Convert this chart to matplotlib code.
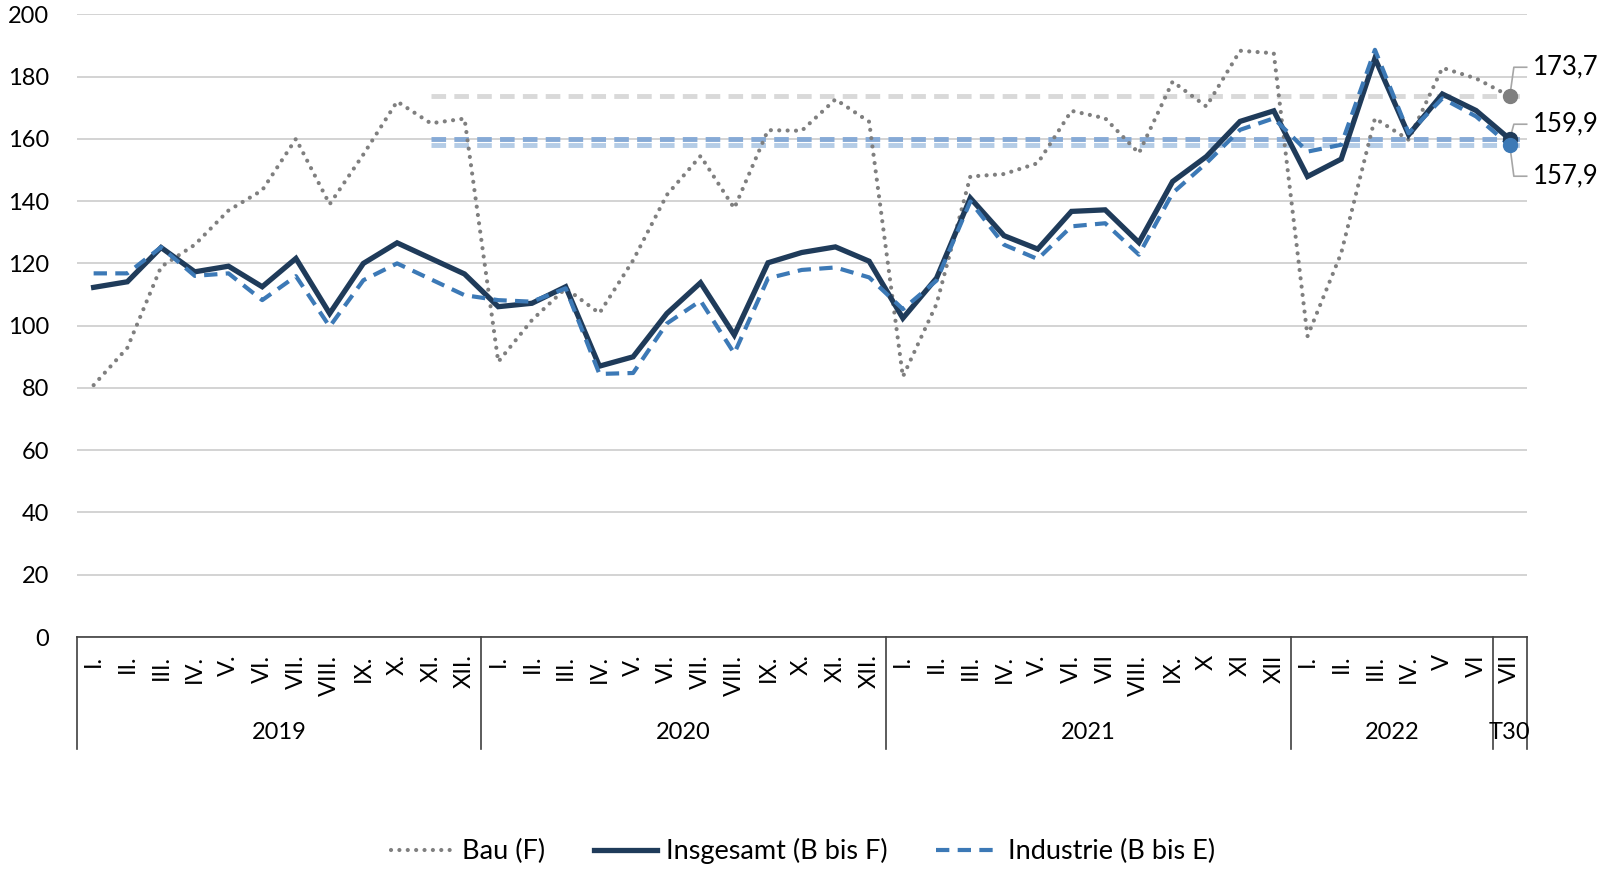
import matplotlib
matplotlib.use("Agg")
import matplotlib.pyplot as plt
import matplotlib.transforms as mtransforms

plt.rcParams['font.family'] = ['Lato', 'DejaVu Sans']

# data
years = ["2019", "2020", "2021", "2022", "T30"]
months = [
    ["I.", "II.", "III.", "IV.", "V.", "VI.", "VII.", "VIII.", "IX.", "X.", "XI.", "XII."],
    ["I.", "II.", "III.", "IV.", "V.", "VI.", "VII.", "VIII.", "IX.", "X.", "XI.", "XII."],
    ["I.", "II.", "III.", "IV.", "V.", "VI.", "VII", "VIII.", "IX.", "X", "XI", "XII"],
    ["I.", "II.", "III.", "IV.", "V", "VI"],
    ["VII"],
]
bau = [80.9, 92.9, 118.9, 126.0, 137.0, 143.5, 160.0, 139.0, 155.0, 172.0, 165.0, 166.5,
       88.4, 101.8, 112.0, 104.0, 121.0, 142.0, 154.5, 137.7, 162.8, 162.6, 172.7, 165.5,
       83.6, 107.0, 147.9, 148.7, 152.2, 169.0, 166.6, 155.4, 178.4, 170.4, 188.3, 187.5,
       96.6, 123.3, 166.6, 159.7, 182.8, 179.4, 173.7]
insg = [112.3, 114.1, 125.1, 117.3, 119.1, 112.5, 121.6, 103.9, 120.0, 126.6, 121.6, 116.6,
        106.1, 107.2, 112.5, 87.0, 90.0, 103.9, 113.8, 97.0, 120.2, 123.5, 125.3, 120.7,
        102.4, 115.3, 141.0, 128.9, 124.6, 136.7, 137.2, 126.7, 146.3, 154.3, 165.6, 169.0,
        147.9, 153.5, 185.9, 161.3, 174.4, 169.1, 159.9]
ind = [116.8, 116.8, 125.2, 116.0, 116.8, 108.2, 115.9, 99.7, 114.6, 120.0, 114.9, 109.8,
       108.2, 107.7, 112.0, 84.5, 84.8, 100.7, 108.0, 91.1, 115.2, 117.9, 118.7, 115.5,
       105.3, 114.5, 139.9, 126.0, 121.4, 131.9, 132.9, 122.8, 142.6, 152.2, 162.9, 166.6,
       155.9, 158.1, 188.6, 161.8, 173.0, 167.2, 157.9]
ref_start = 10
end_labels = ["173,7", "159,9", "157,9"]

c_bau = "#7f7f7f"
c_insg = "#1f3b5a"
c_ind = "#3c79b6"

fig = plt.figure(figsize=(16.06, 8.73), dpi=100)
ax = fig.add_axes([0.0478, 0.2703, 0.9028, 0.7133])

x = list(range(len(insg)))
last = x[-1]

# horizontal reference lines at the latest values
ax.hlines(bau[-1], ref_start, last + 0.5, color="#d9d9d9", lw=3.5, linestyles=(0, (3.0, 1.7)), zorder=2)
ax.hlines(insg[-1], ref_start, last + 0.5, color="#86aad6", lw=3.5, linestyles=(0, (3.0, 1.7)), zorder=2)
ax.hlines(ind[-1], ref_start, last + 0.5, color="#b4cce6", lw=3.5, linestyles=(0, (3.0, 1.7)), zorder=2)

ax.plot(x, bau, color=c_bau, lw=3.0, linestyle=(0, (0.01, 2.0)), dash_capstyle="round",
        label="Bau (F)", zorder=3)
ax.plot(x, insg, color=c_insg, lw=3.8, solid_joinstyle="miter", label="Insgesamt (B bis F)", zorder=4)
ax.plot(x, ind, color=c_ind, lw=3.0, linestyle=(0, (3.2, 2.0)), label="Industrie (B bis E)", zorder=5)

# end points
ax.plot(last, bau[-1], "o", color=c_bau, ms=10, zorder=6, clip_on=False)
ax.plot(last, insg[-1], "o", color=c_insg, ms=10, zorder=6, clip_on=False)
ax.plot(last, ind[-1], "o", color=c_ind, ms=10, zorder=7, clip_on=False)

# leader lines + labels
for val, lab, ly in [(bau[-1], end_labels[0], bau[-1] + 9.3),
                     (insg[-1], end_labels[1], insg[-1] + 4.8),
                     (ind[-1], end_labels[2], ind[-1] - 9.9)]:
    ax.plot([last, last + 0.12, last + 0.5], [val, ly, ly], color="#a6a6a6", lw=1.2,
            clip_on=False, zorder=5)
    ax.text(last + 0.68, ly, lab, fontsize=18.5, va="center", ha="left")

ax.set_xlim(-0.5, last + 0.5)
ax.set_ylim(0, 200)
ax.set_yticks(range(0, 201, 20))
ax.tick_params(axis="y", length=0, pad=20, labelsize=17)
ax.tick_params(axis="x", length=0, labelbottom=False)
ax.set_xticks([])
ax.grid(axis="y", color="#c8c8c8", lw=1.1)
ax.set_axisbelow(True)
for s in ["top", "right", "left"]:
    ax.spines[s].set_visible(False)
ax.spines["bottom"].set_color("#404040")
ax.spines["bottom"].set_linewidth(1.2)

# multi-level category axis
trans = mtransforms.blended_transform_factory(ax.transData, ax.transAxes)
pos = 0
bounds = [-0.5]
for yr, ms in zip(years, months):
    for i, m in enumerate(ms):
        ax.text(pos + i, -0.028, m, transform=trans, rotation=90, ha="center", va="top",
                fontsize=17)
    ax.text(pos + (len(ms) - 1) / 2, -0.1535, yr, transform=trans, ha="center", va="center",
            fontsize=17)
    pos += len(ms)
    bounds.append(pos - 0.5)
for b in bounds:
    ax.plot([b, b], [0, -0.18], transform=trans, color="#404040", lw=1.2, clip_on=False)

fig.legend(loc="center", bbox_to_anchor=(0.5, 0.025), ncol=3, frameon=False, fontsize=19.5,
           handlelength=2.3, columnspacing=1.8, handletextpad=0.35)

fig.savefig("out.png", dpi=100)
